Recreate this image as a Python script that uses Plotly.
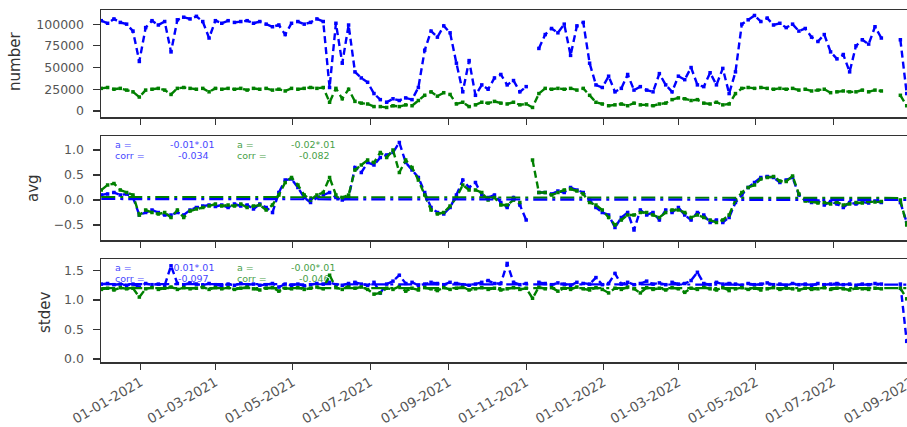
import pandas as pd
import plotly.graph_objects as go
from plotly.subplots import make_subplots

# ---------------- data (5-day sampling) ----------------
dates = pd.date_range("2020-12-01", periods=128, freq="5D")

number_blue = [
    104000, 101000, 106000, 102000, 100000, 92000, 57000, 96000, 104000, 99000,
    103000, 68000, 105000, 108000, 106000, 109000, 103000, 84000, 104000, 101000,
    104000, 102000, 103000, 104000, 101000, 103000, 100000, 97000, 99000, 88000,
    101000, 103000, 100000, 102000, 106000, 103000, 27000, 101000, 55000, 99000,
    45000, 38000, 33000, 20000, 13000, 10000, 14000, 12000, 15000, 13000,
    27000, 70000, 92000, 85000, 98000, 90000, 55000, 22000, 58000, 18000,
    30000, 25000, 38000, 42000, 30000, 35000, 22000, 28000, None, 72000,
    88000, 95000, 90000, 100000, 64000, 98000, 102000, 55000, 30000, 27000,
    40000, 22000, 26000, 42000, 24000, 28000, 24000, 22000, 43000, 30000,
    22000, 40000, 36000, 50000, 30000, 28000, 44000, 30000, 49000, 20000,
    45000, 100000, 105000, 110000, 103000, 107000, 99000, 101000, 96000, 100000,
    92000, 95000, 85000, 80000, 88000, 68000, 60000, 65000, 45000, 75000,
    82000, 77000, 97000, 84000, None, None, 82000, 20000,
]
number_green = [
    26000, 27000, 25000, 26000, 24000, 22000, 16000, 24000, 25000, 26000,
    24000, 19000, 26000, 27000, 26000, 25000, 26000, 22000, 26000, 25000,
    26000, 25000, 26000, 24000, 26000, 25000, 26000, 24000, 25000, 23000,
    26000, 25000, 26000, 27000, 26000, 27000, 10000, 26000, 14000, 25000,
    11000, 9000, 8000, 5000, 5000, 4000, 6000, 5000, 7000, 6000,
    12000, 18000, 22000, 17000, 21000, 19000, 8000, 10000, 5000, 7000,
    10000, 9000, 11000, 9000, 8000, 10000, 7000, 8000, 4000, 20000,
    26000, 25000, 26000, 25000, 26000, 24000, 26000, 18000, 10000, 8000,
    6000, 7000, 8000, 6000, 9000, 7000, 7000, 6000, 8000, 9000,
    13000, 15000, 14000, 12000, 13000, 9000, 8000, 10000, 7000, 8000,
    20000, 26000, 27000, 26000, 27000, 26000, 25000, 26000, 25000, 26000,
    24000, 25000, 23000, 24000, 25000, 21000, 22000, 23000, 22000, 22000,
    24000, 22000, 24000, 23000, None, None, 18000, 6000,
]

avg_blue = [
    0.10, 0.12, 0.15, 0.10, 0.12, 0.05, -0.30, -0.25, -0.20, -0.25,
    -0.30, -0.30, -0.25, -0.30, -0.20, -0.15, -0.12, -0.10, -0.13, -0.10,
    -0.15, -0.08, -0.12, -0.10, -0.18, -0.08, -0.15, -0.25, 0.15, 0.40,
    0.42, 0.25, 0.05, -0.05, 0.05, 0.10, 0.15, 0.05, 0.00, 0.05,
    0.65, 0.55, 0.75, 0.70, 0.85, 0.90, 0.95, 1.15, 0.75, 0.60,
    0.45, 0.15, -0.15, -0.25, -0.28, -0.15, 0.10, 0.40, 0.25, 0.35,
    0.10, 0.05, 0.10, -0.05, -0.15, 0.05, -0.10, -0.40, None, 0.15,
    0.15, 0.12, 0.18, 0.15, 0.25, 0.20, 0.15, 0.00, -0.15, -0.25,
    -0.30, -0.55, -0.35, -0.25, -0.60, -0.20, -0.30, -0.25, -0.40, -0.20,
    -0.25, -0.15, -0.30, -0.40, -0.25, -0.30, -0.45, -0.40, -0.45, -0.35,
    -0.05, 0.10, 0.25, 0.35, 0.45, 0.47, 0.45, 0.35, 0.40, 0.45,
    0.10, 0.00, -0.05, -0.02, -0.10, -0.03, -0.08, -0.15, -0.05, -0.08,
    -0.04, -0.06, -0.02, -0.05, None, None, -0.05, -0.45,
]
avg_green = [
    0.20, 0.30, 0.33, 0.20, 0.15, 0.10, -0.30, -0.20, -0.25, -0.28,
    -0.25, -0.35, -0.20, -0.35, -0.22, -0.18, -0.15, -0.12, -0.08, -0.12,
    -0.10, -0.12, -0.08, -0.15, -0.12, -0.10, -0.20, -0.10, 0.10, 0.35,
    0.45, 0.30, 0.10, 0.00, 0.10, 0.15, 0.45, 0.10, 0.05, 0.10,
    0.60, 0.70, 0.80, 0.75, 0.95, 0.85, 1.00, 0.55, 0.80, 0.65,
    0.40, 0.10, -0.20, -0.28, -0.25, -0.12, 0.05, 0.30, 0.20, 0.20,
    0.15, 0.00, 0.05, -0.10, -0.10, 0.00, -0.05, None, 0.80, 0.15,
    0.15, 0.10, 0.15, 0.20, 0.22, 0.18, 0.12, -0.05, -0.10, -0.20,
    -0.35, -0.50, -0.40, -0.30, -0.30, -0.25, -0.25, -0.30, -0.35, -0.25,
    -0.20, -0.20, -0.25, -0.35, -0.30, -0.35, -0.40, -0.45, -0.40, -0.30,
    0.00, 0.15, 0.25, 0.30, 0.42, 0.45, 0.47, 0.38, 0.37, 0.48,
    0.12, -0.02, -0.03, -0.06, -0.05, -0.08, -0.04, -0.10, -0.08, -0.05,
    -0.06, -0.03, -0.04, -0.03, None, None, 0.00, -0.50,
]

stdev_blue = [
    1.27, 1.28, 1.26, 1.27, 1.25, 1.27, 1.22, 1.28, 1.26, 1.27,
    1.25, 1.58, 1.28, 1.26, 1.29, 1.27, 1.25, 1.28, 1.26, 1.24,
    1.27, 1.25, 1.28, 1.26, 1.27, 1.25, 1.26, 1.28, 1.22, 1.27,
    1.25, 1.27, 1.24, 1.26, 1.28, 1.27, 1.30, 1.26, 1.25, 1.28,
    1.30, 1.27, 1.25, 1.30, 1.12, 1.27, 1.32, 1.42, 1.28, 1.30,
    1.25, 1.27, 1.30, 1.28, 1.26, 1.30, 1.28, 1.26, 1.25, 1.27,
    1.30, 1.33, 1.28, 1.28, 1.62, 1.30, 1.26, 1.28, None, 1.30,
    1.28, 1.26, 1.29, 1.27, 1.25, 1.30, 1.28, 1.27, 1.38, 1.26,
    1.28, 1.45, 1.27, 1.30, 1.26, 1.28, 1.32, 1.27, 1.29, 1.26,
    1.30, 1.27, 1.28, 1.33, 1.47, 1.28, 1.26, 1.30, 1.27, 1.28,
    1.27, 1.25, 1.28, 1.26, 1.27, 1.29, 1.26, 1.27, 1.25, 1.28,
    1.26, 1.27, 1.25, 1.28, 1.26, 1.27, 1.28, 1.26, 1.27, 1.25,
    1.27, 1.26, 1.28, 1.27, None, None, 1.27, 0.30,
]
stdev_green = [
    1.18, 1.20, 1.17, 1.21, 1.19, 1.20, 1.05, 1.19, 1.21, 1.18,
    1.20, 1.22, 1.18, 1.21, 1.19, 1.20, 1.22, 1.18, 1.21, 1.19,
    1.21, 1.18, 1.20, 1.22, 1.19, 1.17, 1.20, 1.21, 1.15, 1.20,
    1.19, 1.21, 1.18, 1.20, 1.22, 1.19, 1.42, 1.21, 1.18, 1.24,
    1.20, 1.22, 1.18, 1.10, 1.12, 1.20, 1.18, 1.23, 1.15, 1.20,
    1.17, 1.21, 1.19, 1.16, 1.21, 1.18, 1.20, 1.22, 1.17, 1.19,
    1.21, 1.18, 1.20, 1.17, 1.19, 1.21, 1.18, 1.20, 1.03, 1.22,
    1.19, 1.21, 1.15, 1.20, 1.18, 1.22, 1.19, 1.17, 1.21, 1.18,
    1.12, 1.20, 1.18, 1.22, 1.19, 1.12, 1.21, 1.18, 1.20, 1.17,
    1.21, 1.19, 1.13, 1.20, 1.18, 1.22, 1.19, 1.17, 1.21, 1.16,
    1.19, 1.21, 1.18, 1.20, 1.17, 1.19, 1.21, 1.18, 1.20, 1.19,
    1.17, 1.20, 1.18, 1.19, 1.21, 1.18, 1.20, 1.19, 1.17, 1.20,
    1.19, 1.18, 1.20, 1.19, None, None, 1.20, 1.02,
]

# fitted trend lines (start / end values)
fit_dates = [dates[0], dates[-1]]
avg_fit_blue = [0.02, 0.00]
avg_fit_green = [0.06, 0.04]
stdev_fit_blue = [1.27, 1.26]
stdev_fit_green = [1.20, 1.20]

stats_avg = {"blue": ("-0.01*.01", "-0.034"), "green": ("-0.02*.01", "-0.082")}
stats_std = {"blue": ("-0.01*.01", "-0.097"), "green": ("-0.00*.01", "-0.046")}

x_ticks = pd.date_range("2021-01-01", "2022-09-01", freq="2MS")

BLUE = "#0000ff"
GREEN = "#008000"
AX = "#333333"
FONT = "DejaVu Sans"

# The figure is a little wider than the window: the reference is cropped at the right.
W, H = 940, 427
VIEW_W = 907
ML, MR, MT, MB = 101, 15, 10, 65
PW, PH = W - ML - MR, H - MT - MB


def px(x):  # page pixel -> paper x
    return (x - ML) / PW


def py(y):  # page pixel -> paper y
    return (H - MB - y) / PH


fig = make_subplots(rows=3, cols=1)

dash = "7px,4px"
for row, (yb, yg) in enumerate([(number_blue, number_green),
                                (avg_blue, avg_green),
                                (stdev_blue, stdev_green)], start=1):
    fig.add_trace(go.Scatter(x=dates, y=yb, mode="lines+markers",
                             line=dict(color=BLUE, width=2.4, dash=dash),
                             marker=dict(color=BLUE, size=3.5, symbol="square"),
                             showlegend=False, connectgaps=False), row=row, col=1)
    fig.add_trace(go.Scatter(x=dates, y=yg, mode="lines+markers",
                             line=dict(color=GREEN, width=2.4, dash=dash),
                             marker=dict(color=GREEN, size=3.5, symbol="square"),
                             showlegend=False, connectgaps=False), row=row, col=1)

for row, fb, fg in [(2, avg_fit_blue, avg_fit_green), (3, stdev_fit_blue, stdev_fit_green)]:
    fig.add_trace(go.Scatter(x=fit_dates, y=fg, mode="lines",
                             line=dict(color=GREEN, width=2.2, dash="14px,5px,3px,5px"),
                             showlegend=False), row=row, col=1)
    fig.add_trace(go.Scatter(x=fit_dates, y=fb, mode="lines",
                             line=dict(color=BLUE, width=2.2, dash="14px,5px,3px,5px"),
                             showlegend=False), row=row, col=1)

xrange = ["2020-11-30 19:00", "2022-09-11 10:00"]
domains = [(py(117), py(10)), (py(240), py(136)), (py(362), py(259))]
yranges = [[-7000, 116300], [-0.8, 1.28], [-0.05, 1.695]]
ytickvals = [[0, 25000, 50000, 75000, 100000], [-0.5, 0.0, 0.5, 1.0], [0.0, 0.5, 1.0, 1.5]]
yticktext = [["0", "25000", "50000", "75000", "100000"],
             ["\u22120.5", "0.0", "0.5", "1.0"],
             ["0.0", "0.5", "1.0", "1.5"]]

for i in range(3):
    xa = "xaxis" if i == 0 else f"xaxis{i+1}"
    ya = "yaxis" if i == 0 else f"yaxis{i+1}"
    fig.layout[xa].update(
        range=xrange, type="date", showgrid=False, zeroline=False,
        showline=True, linecolor=AX, linewidth=1.5, mirror=True,
        ticks="outside", ticklen=6, tickwidth=1.2, tickcolor=AX,
        tickvals=list(x_ticks), ticktext=[d.strftime("%d-%m-%Y") for d in x_ticks],
        showticklabels=(i == 2), tickangle=-30,
        tickfont=dict(family=FONT, size=13.5, color="#555"),
        anchor="y" if i == 0 else f"y{i+1}", automargin=False,
    )
    fig.layout[ya].update(
        domain=list(domains[i]), range=yranges[i], showgrid=False, zeroline=False,
        showline=True, linecolor=AX, linewidth=1.5, mirror=False,
        ticks="outside", ticklen=7, tickwidth=1.2, tickcolor=AX,
        tickvals=ytickvals[i], ticktext=yticktext[i], ticklabelstandoff=6,
        tickfont=dict(family=FONT, size=12.5, color="#555"), automargin=False,
    )

ann = []
# axis titles
for text, x, y in [("number", 15, 62), ("avg", 33, 188), ("stdev", 45, 313)]:
    ann.append(dict(text=text, x=px(x), y=py(y), xref="paper", yref="paper",
                    showarrow=False, textangle=-90, xanchor="center", yanchor="middle",
                    font=dict(family=FONT, size=15, color="#333")))


# statistic texts
def add_stats(stats, y_a, y_c):
    for col, x0, xr in [("blue", 114, 215), ("green", 236, 336)]:
        c = BLUE if col == "blue" else GREEN
        a_val, corr_val = stats[col]
        for label, val, yy in [("a =", a_val, y_a), ("corr =", corr_val, y_c)]:
            ann.append(dict(text=label, x=px(x0), y=py(yy), xref="paper", yref="paper",
                            showarrow=False, xanchor="left", yanchor="middle", opacity=0.75,
                            borderpad=0, font=dict(family=FONT, size=9.5, color=c)))
            xv = xr if label == "a =" else xr - 5
            ann.append(dict(text=val, x=px(xv), y=py(yy), xref="paper", yref="paper",
                            showarrow=False, xanchor="right", yanchor="middle", opacity=0.75,
                            borderpad=0, font=dict(family=FONT, size=9.5, color=c)))


add_stats(stats_avg, 144.5, 155.5)
add_stats(stats_std, 267.5, 278.5)

fig.update_layout(
    width=W, height=H, margin=dict(l=ML, r=MR, t=MT, b=MB, autoexpand=False),
    paper_bgcolor="white", plot_bgcolor="white",
    annotations=ann, showlegend=False,
)

post = (
    "document.documentElement.style.overflow='hidden';"
    "document.body.style.margin='0';document.body.style.overflow='hidden';"
    "var gd=document.getElementById('{plot_id}');"
    "gd.parentElement.style.width='" + str(VIEW_W) + "px';"
    "gd.parentElement.style.overflow='hidden';"
)

fig.write_html("out.html", post_script=post,
               config={"displayModeBar": False, "staticPlot": True})
